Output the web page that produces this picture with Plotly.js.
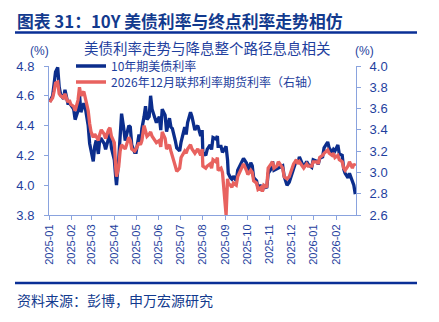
<!DOCTYPE html>
<html>
<head>
<meta charset="utf-8">
<script src="https://cdn.plot.ly/plotly-3.0.1.min.js"></script>
<style>
html,body{margin:0;padding:0;background:#fff;}
#chart{width:439px;height:322px;}
</style>
</head>
<body>
<div id="chart"></div>
<script>
var dates = ['2025-01-02','2025-01-06','2025-01-08','2025-01-10','2025-01-13','2025-01-15','2025-01-17','2025-01-21','2025-01-23','2025-01-27','2025-01-29','2025-01-31',
'2025-02-04','2025-02-06','2025-02-10','2025-02-12','2025-02-14','2025-02-18','2025-02-20','2025-02-24','2025-02-26','2025-02-28',
'2025-03-03','2025-03-05','2025-03-07','2025-03-10','2025-03-12','2025-03-14','2025-03-18','2025-03-20','2025-03-24','2025-03-26','2025-03-28',
'2025-04-01','2025-04-03','2025-04-04','2025-04-07','2025-04-09','2025-04-11','2025-04-14','2025-04-16','2025-04-21','2025-04-23','2025-04-25','2025-04-29',
'2025-05-01','2025-05-05','2025-05-07','2025-05-09','2025-05-12','2025-05-14','2025-05-16','2025-05-19','2025-05-21','2025-05-23','2025-05-27','2025-05-29',
'2025-06-02','2025-06-04','2025-06-06','2025-06-10','2025-06-12','2025-06-16','2025-06-18','2025-06-20','2025-06-24','2025-06-26','2025-06-30',
'2025-07-02','2025-07-07','2025-07-09','2025-07-11','2025-07-15','2025-07-17','2025-07-21','2025-07-23','2025-07-25','2025-07-29','2025-07-31',
'2025-08-01','2025-08-05','2025-08-07','2025-08-11','2025-08-13','2025-08-15','2025-08-19','2025-08-21','2025-08-22','2025-08-26','2025-08-28',
'2025-09-02','2025-09-04','2025-09-05','2025-09-08','2025-09-10','2025-09-12','2025-09-16','2025-09-18','2025-09-22','2025-09-24','2025-09-26','2025-09-30',
'2025-10-02','2025-10-06','2025-10-08','2025-10-10','2025-10-14','2025-10-16','2025-10-20','2025-10-22','2025-10-24','2025-10-28','2025-10-30',
'2025-11-03','2025-11-05','2025-11-07','2025-11-11','2025-11-13','2025-11-17','2025-11-19','2025-11-21','2025-11-25','2025-11-28',
'2025-12-02','2025-12-04','2025-12-08','2025-12-10','2025-12-12','2025-12-16','2025-12-18','2025-12-22','2025-12-24','2025-12-29','2025-12-31',
'2026-01-05','2026-01-07','2026-01-09','2026-01-13','2026-01-15','2026-01-20','2026-01-22','2026-01-26','2026-01-28','2026-01-30',
'2026-02-03','2026-02-05','2026-02-09','2026-02-11','2026-02-13','2026-02-17','2026-02-19','2026-02-23','2026-02-25','2026-02-27'];

var ust10y = [4.56,4.60,4.68,4.76,4.79,4.66,4.61,4.58,4.64,4.55,4.55,4.54,
4.51,4.44,4.50,4.61,4.49,4.55,4.52,4.40,4.28,4.22,
4.16,4.26,4.30,4.21,4.31,4.31,4.28,4.24,4.33,4.35,4.25,
4.17,4.05,4.00,4.17,4.34,4.48,4.38,4.30,4.40,4.39,4.27,4.22,
4.22,4.34,4.28,4.38,4.46,4.53,4.44,4.46,4.60,4.51,4.45,4.42,
4.46,4.37,4.51,4.47,4.36,4.45,4.39,4.38,4.30,4.25,4.23,
4.29,4.39,4.34,4.42,4.49,4.46,4.37,4.39,4.40,4.33,4.37,
4.22,4.20,4.24,4.27,4.24,4.32,4.31,4.33,4.26,4.26,4.22,
4.26,4.17,4.08,4.05,4.04,4.06,4.03,4.10,4.14,4.15,4.18,4.15,
4.10,4.15,4.13,4.05,4.03,3.98,4.00,3.96,4.00,3.98,4.08,
4.11,4.16,4.10,4.11,4.12,4.13,4.13,4.06,4.00,4.02,
4.09,4.11,4.17,4.15,4.19,4.15,4.12,4.16,4.14,4.12,4.17,
4.16,4.14,4.18,4.19,4.25,4.29,4.25,4.22,4.24,4.23,
4.27,4.21,4.20,4.11,4.08,4.05,4.08,4.02,4.00,3.94];

var ffDec26 = [3.66,3.70,3.76,3.84,3.85,3.74,3.72,3.70,3.74,3.66,3.68,3.64,
3.62,3.58,3.68,3.80,3.72,3.76,3.70,3.58,3.46,3.38,
3.33,3.36,3.34,3.30,3.36,3.40,3.36,3.32,3.40,3.42,3.34,
3.28,3.04,2.96,3.05,3.20,3.26,3.24,3.22,3.33,3.30,3.22,3.20,
3.22,3.28,3.26,3.30,3.44,3.40,3.34,3.36,3.38,3.34,3.30,3.28,
3.30,3.24,3.38,3.32,3.22,3.26,3.20,3.16,3.06,3.01,3.04,
3.14,3.20,3.18,3.22,3.26,3.22,3.18,3.20,3.22,3.16,3.22,
3.06,3.04,3.06,3.08,3.04,3.12,3.10,3.14,3.02,3.04,3.00,
2.60,2.94,2.90,2.88,2.86,2.90,2.88,2.96,3.02,3.06,3.08,3.02,
2.98,3.02,3.00,2.92,2.90,2.84,2.86,2.82,2.88,2.86,3.04,
3.08,3.10,3.04,3.06,3.10,3.06,3.04,2.96,2.94,2.96,
3.04,3.08,3.12,3.08,3.10,3.06,3.04,3.08,3.06,3.06,3.10,
3.10,3.08,3.14,3.16,3.18,3.21,3.18,3.16,3.18,3.14,
3.16,3.12,3.10,3.04,3.02,3.06,3.10,3.04,3.08,3.06];

var leftTicks = [3.8,4.0,4.2,4.4,4.6,4.8];
var rightTicks = [2.6,2.8,3.0,3.2,3.4,3.6,3.8,4.0];

var navy = '#0b2d8c';
var red = '#e8625f';
var axisC = '#8aa3de';
var tickC = '#1f3f9e';
var fontFam = 'Arial, "Liberation Sans", "Noto Sans CJK SC", sans-serif';
var cjk = '"Noto Sans CJK SC", "Liberation Sans", sans-serif';

var L = 49, R = 83, T = 66, B = 107;
var W = 439 - L - R, H = 322 - T - B;
function px(x){ return (x - L) / W; }
function py(y){ return (322 - B - y) / H; }

var traces = [
  {x: dates, y: ust10y, name: '10年期美债利率', type: 'scatter', mode: 'lines',
   line: {color: navy, width: 3.3}, yaxis: 'y', legend: 'legend'},
  {x: dates, y: ffDec26, name: '2026年12月联邦利率期货利率（右轴）', type: 'scatter', mode: 'lines',
   line: {color: red, width: 3.3}, yaxis: 'y2', legend: 'legend2'}
];

var legFont = {family: cjk, size: 12, color: tickC};

var layout = {
  width: 439, height: 322,
  margin: {l: L, r: R, t: T, b: B, pad: 0},
  paper_bgcolor: '#fff', plot_bgcolor: '#fff',
  font: {family: fontFam, color: tickC, size: 12},
  showlegend: true,
  legend: {x: px(71), y: py(66), xanchor: 'left', yanchor: 'middle', bgcolor: 'rgba(0,0,0,0)', font: legFont},
  legend2: {x: px(71), y: py(82), xanchor: 'left', yanchor: 'middle', bgcolor: 'rgba(0,0,0,0)', font: legFont},
  xaxis: {type: 'date', range: ['2025-01-01','2026-02-28'], tick0: '2025-01-01', dtick: 'M1',
          tickformat: '%Y-%m', tickangle: -90, ticks: 'outside', ticklen: 4, tickcolor: axisC,
          showline: true, linecolor: axisC, linewidth: 1, showgrid: false, zeroline: false,
          tickfont: {family: fontFam, size: 11, color: tickC}},
  yaxis: {range: [3.8, 4.8], tickvals: leftTicks, ticktext: leftTicks.map(function(v){return v.toFixed(1);}),
          ticks: 'outside', ticklen: 4, tickcolor: axisC, showline: true, linecolor: axisC, ticklabelstandoff: 7,
          showgrid: false, zeroline: false, tickfont: {family: fontFam, size: 13, color: tickC}},
  yaxis2: {range: [2.6, 4.0], overlaying: 'y', side: 'right', tickvals: rightTicks,
           ticktext: rightTicks.map(function(v){return v.toFixed(1);}), ticklabelstandoff: 6,
           ticks: 'outside', ticklen: 4, tickcolor: axisC, showline: true, linecolor: axisC,
           showgrid: false, zeroline: false, tickfont: {family: fontFam, size: 13, color: tickC}},
  shapes: [
    {type: 'line', xref: 'paper', yref: 'paper', x0: px(15), x1: px(417), y0: py(32.5), y1: py(32.5),
     line: {color: '#0a2f96', width: 2.5}},
    {type: 'line', xref: 'paper', yref: 'paper', x0: px(15), x1: px(417), y0: py(283), y1: py(283),
     line: {color: '#0a2f96', width: 2.5}}
  ],
  annotations: [
    {text: '<b>图表 31：10Y 美债利率与终点利率走势相仿</b>', xref: 'paper', yref: 'paper', x: px(15), y: py(21.5),
     xanchor: 'left', yanchor: 'middle', showarrow: false, font: {family: cjk, size: 16.8, color: '#123a8e'}},
    {text: '美债利率走势与降息整个路径息息相关', xref: 'paper', yref: 'paper', x: px(207), y: py(47.5),
     xanchor: 'center', yanchor: 'middle', showarrow: false, font: {family: cjk, size: 14.5, color: tickC}},
    {text: '(%)', xref: 'paper', yref: 'paper', x: px(39), y: py(51),
     xanchor: 'center', yanchor: 'middle', showarrow: false, font: {family: fontFam, size: 12, color: tickC}},
    {text: '(%)', xref: 'paper', yref: 'paper', x: px(364), y: py(51),
     xanchor: 'center', yanchor: 'middle', showarrow: false, font: {family: fontFam, size: 12, color: tickC}},
    {text: '资料来源：彭博，申万宏源研究', xref: 'paper', yref: 'paper', x: px(15), y: py(300),
     xanchor: 'left', yanchor: 'middle', showarrow: false, font: {family: cjk, size: 14, color: '#123a8e'}}
  ]
};

Plotly.newPlot('chart', traces, layout, {displayModeBar: false, staticPlot: true});
</script>
</body>
</html>
